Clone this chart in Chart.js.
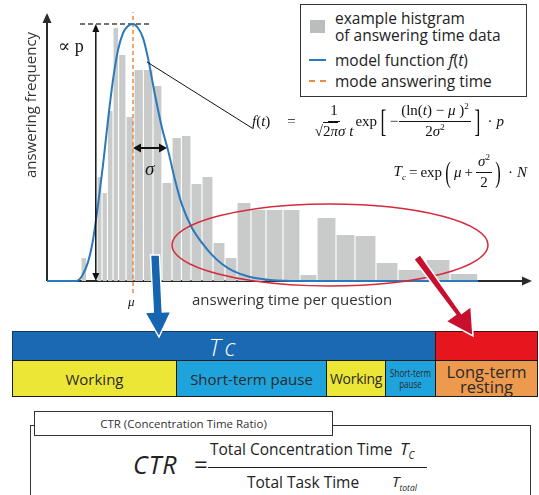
<!DOCTYPE html>
<html>
<head>
<meta charset="utf-8">
<script src="https://cdn.jsdelivr.net/npm/chart.js@4.4.1/dist/chart.umd.min.js"></script>
<style>
body { margin:0; width:539px; height:495px; overflow:hidden; background:#fff; position:relative; font-family:"Open Sans", sans-serif; color:#222; }
.abs { position:absolute; }
.ser { font-family:"Liberation Serif", "DejaVu Serif", serif; color:#111; }
.it { font-style:italic; }
.fx { display:flex; align-items:center; white-space:nowrap; }
.frac { display:inline-flex; flex-direction:column; align-items:center; line-height:1.15; }
.frac > span:first-child { border-bottom:1px solid #111; padding:0 2px 1px; }
.frac > span:last-child { padding-top:1px; }
.br { font-size:32px; line-height:1; margin:0 1px; transform:scaleX(0.55); display:inline-block; font-weight:100; }
.pr { font-size:30px; line-height:1; margin:0 1px; transform:scaleX(0.55); display:inline-block; }
sup { font-size:9px; vertical-align:6px; line-height:0; }
.seg { position:absolute; box-sizing:border-box; border:1px solid #1a1a1a; display:flex; align-items:center; justify-content:center; text-align:center; color:#2a2a2a; white-space:nowrap; }
</style>
</head>
<body>
<canvas id="mycanvas" class="abs" width="539" height="320" style="left:0;top:0"></canvas>

<!-- axis titles and labels on the plot -->
<div class="abs" style="left:30px;top:105px;transform:translate(-50%,-50%) rotate(-90deg);font-size:15px;color:#333;white-space:nowrap">answering frequency</div>
<div class="abs" style="left:192px;top:289px;font-size:15px;color:#333;white-space:nowrap">answering time per question</div>
<div class="abs ser" style="left:58px;top:35px;font-size:18px">∝ p</div>
<div class="abs ser it" style="left:145px;top:158px;font-size:19px">σ</div>
<div class="abs ser it" style="left:128px;top:294px;font-size:13px">μ</div>

<!-- legend -->
<div class="abs" style="left:300px;top:4px;width:227px;height:93px;box-sizing:border-box;border:1.5px solid #333;background:#fff"></div>
<div class="abs" style="left:310px;top:20px;width:15px;height:13px;background:#bbbcbc"></div>
<div class="abs" style="left:309px;top:59px;width:17px;height:2px;background:#2a78bd"></div>
<div class="abs" style="left:309px;top:80px;width:17px;height:0;border-top:2px dashed #f08a3c"></div>
<div class="abs" style="left:335px;top:10px;font-size:15.5px;line-height:17px;color:#222;white-space:nowrap">example histgram<br>of answering time data</div>
<div class="abs" style="left:335px;top:49px;font-size:15.5px;color:#222;white-space:nowrap">model function <i>f</i>(<i>t</i>)</div>
<div class="abs" style="left:335px;top:70px;font-size:15.5px;color:#222;white-space:nowrap">mode answering time</div>

<!-- formulas -->
<div class="abs fx ser" style="left:252px;top:99px;height:44px;font-size:15px">
  <span><span class="it">f</span>(<span class="it">t</span>)</span>
  <span style="margin:0 19px 0 17px">=</span>
  <span class="frac"><span>1</span><span>√<span style="border-top:1px solid #111">2<span class="it">π</span></span><span class="it">σ t</span></span></span>
  <span style="margin-left:2px">exp</span>
  <span class="br">[</span><span style="margin-right:1px">−</span><span class="frac"><span>(ln(<span class="it">t</span>) − <span class="it">μ</span> )<sup>2</sup></span><span>2<span class="it">σ</span><sup>2</sup></span></span><span class="br">]</span>
  <span style="margin:0 4px">·</span><span class="it">p</span>
</div>
<div class="abs fx ser" style="right:12px;top:150px;height:44px;font-size:15px">
  <span class="it">T<sub style="font-size:9px">c</sub></span>
  <span style="margin:0 3px">=</span>exp<span class="pr">(</span><span class="it">μ</span><span style="margin:0 3px">+</span><span class="frac"><span><span class="it">σ</span><sup>2</sup></span><span>2</span></span><span class="pr">)</span>
  <span style="margin:0 4px">·</span><span class="it">N</span>
</div>

<!-- time line blocks -->
<div class="seg" style="left:12px;top:331px;width:424px;height:30px;background:#1a69b2;border-color:#123a66;color:#fff;font-style:italic;font-size:24px;letter-spacing:4px;font-weight:300">Tc</div>
<div class="seg" style="left:435px;top:331px;width:103px;height:30px;background:#e5161d;border-color:#4a1010"></div>
<div class="seg" style="left:12px;top:360px;width:165px;height:37px;background:#ece637;font-size:15px">Working</div>
<div class="seg" style="left:176px;top:360px;width:151px;height:37px;background:#1fa3dc;font-size:15px">Short-term pause</div>
<div class="seg" style="left:326px;top:360px;width:60px;height:37px;background:#ece637;font-size:14px;letter-spacing:-0.3px">Working</div>
<div class="seg" style="left:385px;top:360px;width:51px;height:37px;background:#1fa3dc;font-size:10px;line-height:11px"><span style="display:inline-block;transform:scaleX(0.8)">Short-term<br>pause</span></div>
<div class="seg" style="left:435px;top:360px;width:103px;height:37px;background:#ee9a4e;font-size:16.5px;line-height:15px">Long-term<br>resting</div>

<!-- CTR box -->
<div class="abs" style="left:30px;top:425px;width:501px;height:90px;box-sizing:border-box;border:1.5px solid #333;border-bottom:none"></div>
<div class="abs" style="left:34px;top:411px;width:299px;height:25px;box-sizing:border-box;border:1.5px solid #333;background:#fff;font-size:11.5px;color:#333;display:flex;align-items:center;justify-content:center">CTR (Concentration Time Ratio)</div>
<div class="abs it" style="left:133px;top:447px;font-size:25px;color:#222;letter-spacing:1px">CTR</div>
<div class="abs" style="left:194px;top:447px;font-size:24px;color:#222">=</div>
<div class="abs" style="left:208px;top:467px;width:219px;height:0;border-top:1.3px solid #222"></div>
<div class="abs" style="left:210px;top:438px;font-size:15.5px;color:#222;white-space:nowrap">Total Concentration Time</div>
<div class="abs it" style="left:400px;top:437px;font-size:17px;color:#222">T<sub style="font-size:10px">C</sub></div>
<div class="abs" style="left:247px;top:471px;font-size:15.5px;color:#222;white-space:nowrap">Total Task Time</div>
<div class="abs it" style="left:392px;top:471px;font-size:15px;color:#222">T<sub style="font-size:8.5px">total</sub></div>

<!-- big arrows, ellipse, leader line -->
<svg class="abs" width="539" height="495" style="left:0;top:0;pointer-events:none">
  <ellipse cx="330" cy="245" rx="158" ry="41" fill="none" stroke="#d42a3c" stroke-width="1.5"/>
  <line x1="147" y1="62" x2="252" y2="128" stroke="#111" stroke-width="1"/>
  <polygon points="150.5,255 159.5,255 162.3,312 171,311.5 159,337 145,312.5 153.3,312" fill="#1565b0" stroke="#fff" stroke-width="1.5"/>
  <polygon points="413.7,259.3 420.3,254.7 461.5,313.5 471,306.5 473,336 446,321.5 455.5,314.5" fill="#c8102e" stroke="#fff" stroke-width="1.5"/>
</svg>

<script>
// histogram bins (answering time, arbitrary units) and counts
var binEdges = [8.5, 9.9, 11.1, 12.5, 13.75, 15.1, 16.5, 17.9, 19.75, 21.75, 24.1, 26.5, 28.75, 31.25,
                33.6, 36, 38.75, 41.5, 44.5, 47.5, 51, 54.75, 59, 63.25, 67.5, 72.25, 77, 82.25,
                87.75, 94.75, 100.75, 107.75];
var binCounts = [8.6, 0, 0, 39.1, 33.1, 63.9, 95.1, 85.0, 61.7, 79.3, 79.3, 73.3, 36.8, 53.8, 54.5,
                 36.5, 39.1, 14.3, 8.6, 29.3, 26.7, 26.7, 26.7, 2.3, 23.7, 17.3, 16.9, 6.8, 4.1, 7.9, 2.6];

// model function f(t)
var curveTime = [0, 7.25, 8.75, 10.25, 11.5, 12.75, 14, 15.25, 16.5, 17.75, 19, 20.25, 21.5, 22.75, 24,
                 25.25, 27, 28.75, 30.25, 32, 33.75, 36.25, 38.75, 41.25, 43.75, 46.5, 50.75, 55.75,
                 63.25, 107.75];
var curveFreq = [0, 0, 1.9, 7.1, 15.4, 28.6, 43.6, 60.5, 75.6, 86.8, 93.2, 95.9, 96.6, 95.1, 91.4,
                 83.8, 69.9, 57.5, 49.2, 38.0, 28.6, 19.9, 14.3, 9.8, 6.4, 3.8, 1.5, 0.4, 0, 0];

var modeTime = 21.5;
var peakFreq = 96.6;
var sigmaEnd = 30;
var sigmaLevel = 50;
var pArrowTime = 12.2;

(function() {
    var ctx = document.getElementById('mycanvas');
    var gap = 0.14;

    var histPts = [{x: binEdges[0], y: 0}];
    for (var i = 0; i < binCounts.length; i++) {
        var l = binEdges[i] + gap, r = binEdges[i + 1] - gap;
        histPts.push({x: l, y: 0}, {x: l, y: binCounts[i]}, {x: r, y: binCounts[i]}, {x: r, y: 0});
    }
    var curvePts = curveTime.map(function(t, i) { return {x: t, y: curveFreq[i]}; });

    function head(c, x, y, dx, dy, len, w) {
        var n = Math.sqrt(dx * dx + dy * dy); dx /= n; dy /= n;
        c.beginPath();
        c.moveTo(x, y);
        c.lineTo(x - dx * len - dy * w, y - dy * len + dx * w);
        c.lineTo(x - dx * len + dy * w, y - dy * len - dx * w);
        c.closePath();
        c.fill();
    }

    var axesPlugin = {
        id: 'axes',
        beforeDatasetsDraw: function(chart) {
            var c = chart.ctx, a = chart.chartArea;
            c.save();
            c.strokeStyle = '#2a2a2a'; c.fillStyle = '#2a2a2a'; c.lineWidth = 2;
            c.beginPath();
            c.moveTo(a.left, a.bottom); c.lineTo(a.left, a.top + 4);
            c.moveTo(a.left, a.bottom); c.lineTo(a.right - 6, a.bottom);
            c.stroke();
            head(c, a.left, a.top - 2, 0, -1, 10, 4.5);
            head(c, a.right + 1, a.bottom, 1, 0, 10, 4.5);
            c.restore();
        },
        afterDatasetsDraw: function(chart) {
            var c = chart.ctx, xs = chart.scales.x, ys = chart.scales.y;
            c.save();
            c.strokeStyle = '#111'; c.fillStyle = '#111';
            // arrow for the peak height (proportional to p)
            var px = xs.getPixelForValue(pArrowTime), y0 = ys.getPixelForValue(0), y1 = ys.getPixelForValue(peakFreq);
            c.lineWidth = 1.5;
            c.beginPath(); c.moveTo(px, y0 - 6); c.lineTo(px, y1 + 6); c.stroke();
            head(c, px, y0, 0, 1, 8, 3.5);
            head(c, px, y1, 0, -1, 8, 3.5);
            // sigma arrow
            var sx0 = xs.getPixelForValue(modeTime), sx1 = xs.getPixelForValue(sigmaEnd), sy = ys.getPixelForValue(sigmaLevel);
            c.lineWidth = 2;
            c.beginPath(); c.moveTo(sx0 + 6, sy); c.lineTo(sx1 - 6, sy); c.stroke();
            head(c, sx0, sy, -1, 0, 8, 4.5);
            head(c, sx1, sy, 1, 0, 8, 4.5);
            c.restore();
        }
    };

    new Chart(ctx, {
        type: 'scatter',
        data: {
            datasets: [
                {
                    label: 'model function f(t)',
                    data: curvePts,
                    showLine: true,
                    borderColor: '#2a78bd',
                    borderWidth: 2,
                    pointRadius: 0,
                    cubicInterpolationMode: 'monotone',
                    clip: false,
                    order: 1
                },
                {
                    label: 'mode answering time',
                    data: [{x: modeTime, y: -4.5}, {x: modeTime, y: 101}],
                    showLine: true,
                    borderColor: '#f08a3c',
                    borderWidth: 1.5,
                    borderDash: [4, 3],
                    pointRadius: 0,
                    clip: false,
                    order: 2
                },
                {
                    label: 'peak',
                    data: [{x: 8.25, y: peakFreq}, {x: 26, y: peakFreq}],
                    showLine: true,
                    borderColor: '#444',
                    borderWidth: 1.5,
                    borderDash: [5, 3],
                    pointRadius: 0,
                    clip: false,
                    order: 3
                },
                {
                    label: 'example histgram',
                    data: histPts,
                    showLine: true,
                    fill: 'origin',
                    backgroundColor: '#c9caca',
                    borderWidth: 0,
                    borderColor: 'rgba(0,0,0,0)',
                    pointRadius: 0,
                    tension: 0,
                    order: 5
                }
            ]
        },
        options: {
            responsive: false,
            animation: false,
            devicePixelRatio: 1,
            layout: { padding: { left: 47, top: 15, right: 8, bottom: 39 } },
            scales: {
                x: { type: 'linear', min: 0, max: 121, display: false },
                y: { min: 0, max: 100, display: false }
            },
            plugins: {
                legend: { display: false },
                tooltip: { enabled: false }
            }
        },
        plugins: [axesPlugin]
    });
})();
</script>
</body>
</html>
